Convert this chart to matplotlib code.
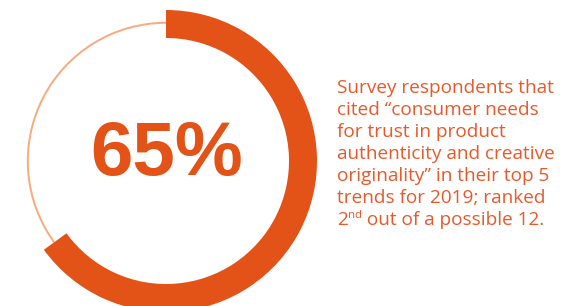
import matplotlib
matplotlib.use("Agg")
import matplotlib.pyplot as plt

share = [65, 35]
big_label = "65%"
text_lines = [
    "Survey respondents that",
    "cited \u201cconsumer needs",
    "for trust in product",
    "authenticity and creative",
    "originality\u201d in their top 5",
    "trends for 2019; ranked",
]
last_parts = ["2", "nd", " out of a possible 12."]

ORANGE = "#E35217"
LIGHT = "#F6AC80"
TEXT = "#E8592A"

W, H = 583, 306
fig = plt.figure(figsize=(W / 100, H / 100), dpi=100)
ax = fig.add_axes([0, 0, 1, 1])

cx, cy = 166, H - 161
ax.pie(share, center=(cx, cy), radius=139.2, startangle=90, counterclock=False,
       colors=["none", LIGHT], wedgeprops=dict(width=2.0, linewidth=0))
ax.pie(share, center=(cx, cy), radius=151, startangle=90, counterclock=False,
       colors=[ORANGE, "none"], wedgeprops=dict(width=28, linewidth=0))
ax.set_xlim(0, W)
ax.set_ylim(0, H)
ax.set_aspect("equal")
ax.axis("off")

ax.text(cx + 1, H - 156, big_label, ha="center", va="center", color=ORANGE,
        fontsize=55, fontweight="bold", family="Liberation Sans")

x0 = 337
base0 = H - 93
step = 22
fs = 13.7
fam = "Open Sans"
for i, line in enumerate(text_lines):
    ax.text(x0, base0 - i * step, line, ha="left", va="baseline",
            color=TEXT, fontsize=fs, family=fam)

# last line with superscript
fig.canvas.draw()
r = fig.canvas.get_renderer()
yb = base0 - 6 * step
t1 = ax.text(x0, yb, last_parts[0], ha="left", va="baseline", color=TEXT,
             fontsize=fs, family=fam)
w1 = t1.get_window_extent(r).width
t2 = ax.text(x0 + w1 + 0.5, yb + 6.5, last_parts[1], ha="left", va="baseline",
             color=TEXT, fontsize=fs * 0.6, family=fam)
w2 = t2.get_window_extent(r).width
ax.text(x0 + w1 + w2 + 0.5, yb, last_parts[2], ha="left", va="baseline",
        color=TEXT, fontsize=fs, family=fam)

fig.savefig("out.png", dpi=100, facecolor="white")
